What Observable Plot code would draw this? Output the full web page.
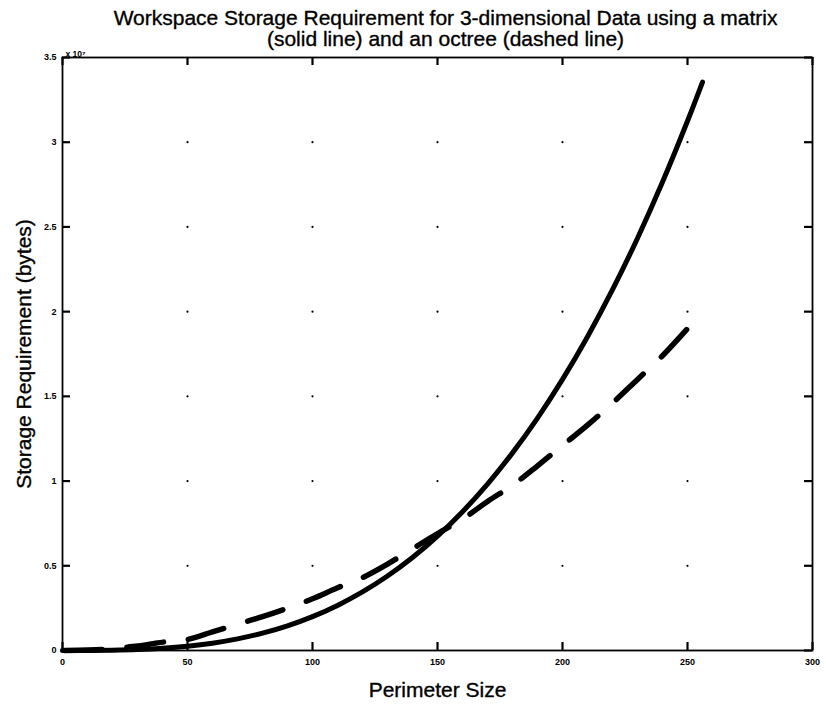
<!DOCTYPE html>
<html>
<head>
<meta charset="utf-8">
<script src="https://cdn.jsdelivr.net/npm/d3@7"></script>
<script src="https://cdn.jsdelivr.net/npm/@observablehq/plot@0.6"></script>
<style>
  html, body { margin: 0; padding: 0; background: #fff; }
  #chart svg { display: block; font-family: "Liberation Sans", Arial, sans-serif; }
</style>
</head>
<body>
<div id="chart"></div>
<script>
// ---- Data (storage in units of 10^7 bytes) ----
const titleLines = [
  "Workspace Storage Requirement for 3-dimensional Data using a matrix",
  "(solid line) and an octree (dashed line)"
];
const xLabel = "Perimeter Size";
const yLabel = "Storage Requirement (bytes)";
const yExponent = "x 10\u2077";

const xTicks = [0, 50, 100, 150, 200, 250, 300];
const yTicks = [0, 0.5, 1, 1.5, 2, 2.5, 3, 3.5];
const yTickLabels = ["0", "0.5", "1", "1.5", "2", "2.5", "3", "3.5"];

const matrixPerimeter = [0, 10, 20, 30, 40, 50, 60, 70, 80, 90, 100, 110, 120, 130, 140, 150, 160, 170, 180, 190, 200, 210, 220, 230, 240, 250, 256];
const matrixStorage   = [0, 0.0002, 0.0016, 0.0054, 0.0128, 0.025, 0.0432, 0.0686, 0.1024, 0.1458, 0.2, 0.2662, 0.3456, 0.4394, 0.5488, 0.675, 0.8192, 0.9826, 1.1664, 1.3718, 1.6, 1.8522, 2.1296, 2.4334, 2.7648, 3.125, 3.355];

const octreePerimeter = [0, 10, 20, 26, 32, 38, 44, 50, 60, 70, 80, 90, 100, 110, 120, 130, 140, 150, 160, 170, 180, 190, 200, 210, 220, 230, 240, 250];
const octreeStorage   = [0, 0.003, 0.01, 0.02, 0.03, 0.045, 0.055, 0.065, 0.11, 0.155, 0.2, 0.25, 0.305, 0.37, 0.43, 0.51, 0.6, 0.69, 0.775, 0.88, 0.975, 1.09, 1.21, 1.33, 1.46, 1.6, 1.74, 1.9];

// ---- Build tables ----
const matrix = matrixPerimeter.map((p, i) => ({p, s: matrixStorage[i]}));
const octree = octreePerimeter.map((p, i) => ({p, s: octreeStorage[i]}));
const gridPts = [];
for (const gx of xTicks.slice(1, -1)) for (const gy of yTicks.slice(1, -1)) gridPts.push({gx, gy});
const yLabelMap = new Map(yTicks.map((t, i) => [t, yTickLabels[i]]));

const W = 826, H = 710;
const M = {left: 62, right: 14, top: 57, bottom: 60};
const frameW = W - M.left - M.right, frameH = H - M.top - M.bottom;
const tickLen = 8;

const tickFont = {fontSize: 9, fontWeight: "bold"};
const bigFont = {fontSize: 21, fill: "black", stroke: "black", strokeWidth: 0.35};
const tickStyle = {stroke: "black", strokeWidth: 2.2};

const chart = Plot.plot({
  width: W,
  height: H,
  marginLeft: M.left,
  marginRight: M.right,
  marginTop: M.top,
  marginBottom: M.bottom,
  x: {domain: [xTicks[0], xTicks[xTicks.length - 1]]},
  y: {domain: [yTicks[0], yTicks[yTicks.length - 1]]},
  marks: [
    Plot.dot(gridPts, {x: "gx", y: "gy", r: 1.1, fill: "black", stroke: null}),
    Plot.frame({stroke: "black", strokeWidth: 1.8}),
    // inward ticks on all four sides (full-frame rules trimmed by insets)
    Plot.ruleX(xTicks, {insetTop: frameH - tickLen, ...tickStyle}),
    Plot.ruleX(xTicks, {insetBottom: frameH - tickLen, ...tickStyle}),
    Plot.ruleY(yTicks, {insetRight: frameW - tickLen, ...tickStyle}),
    Plot.ruleY(yTicks, {insetLeft: frameW - tickLen, ...tickStyle}),
    // tick labels
    Plot.axisX(xTicks, {anchor: "bottom", tickSize: 0, tickPadding: 8, label: null, ...tickFont}),
    Plot.axisY(yTicks, {anchor: "left", tickSize: 0, tickPadding: 6, label: null, tickFormat: d => yLabelMap.get(d), ...tickFont}),
    // data lines
    Plot.line(matrix, {x: "p", y: "s", stroke: "black", strokeWidth: 5, curve: "catmull-rom"}),
    Plot.line(octree, {x: "p", y: "s", stroke: "black", strokeWidth: 5.5, curve: "catmull-rom",
      strokeDasharray: "37,25", strokeDashoffset: -2.5, strokeLinecap: "round"}),
    // texts
    Plot.text([titleLines[0]], {frameAnchor: "top", lineAnchor: "middle", dx: 8, dy: -39, ...bigFont}),
    Plot.text([titleLines[1]], {frameAnchor: "top", lineAnchor: "middle", dx: 8, dy: -18, ...bigFont}),
    Plot.text([xLabel], {frameAnchor: "bottom", lineAnchor: "middle", dy: 40, ...bigFont}),
    Plot.text([yLabel], {frameAnchor: "left", textAnchor: "middle", lineAnchor: "middle", dx: -38, rotate: -90, ...bigFont}),
    Plot.text([yExponent], {frameAnchor: "top-left", dx: 3, dy: -7, textAnchor: "start", fontSize: 8.5, fontWeight: "bold", fill: "black"})
  ]
});
document.getElementById("chart").appendChild(chart);
</script>
</body>
</html>
